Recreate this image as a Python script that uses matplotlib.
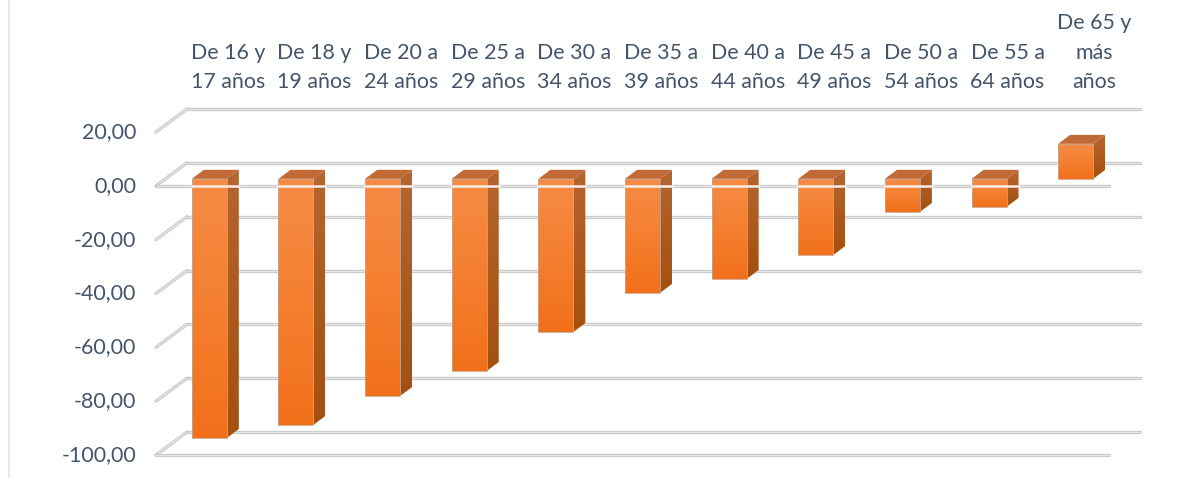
import numpy as np
import matplotlib
matplotlib.use('Agg')
import matplotlib.pyplot as plt
from matplotlib.patches import Polygon
from matplotlib.lines import Line2D

plt.rcParams['font.family'] = ['Lato', 'DejaVu Sans']

categorias = ['De 16 y\n17 años', 'De 18 y\n19 años', 'De 20 a\n24 años', 'De 25 a\n29 años',
              'De 30 a\n34 años', 'De 35 a\n39 años', 'De 40 a\n44 años', 'De 45 a\n49 años',
              'De 50 a\n54 años', 'De 55 a\n64 años', 'De 65 y\nmás\naños']
valores = [-96.3, -91.4, -80.7, -71.4, -56.9, -42.4, -37.2, -28.3, -12.3, -10.4, 13.0]
ticks = [20, 0, -20, -40, -60, -80, -100]
tick_labels = ['20,00', '0,00', '-20,00', '-40,00', '-60,00', '-80,00', '-100,00']

W, H = 1191, 478
fig = plt.figure(figsize=(W / 100, H / 100), dpi=100)
# zona del suelo frontal: x 156-1109, y 132 (20) a 455 (-100)
ax = fig.add_axes([156 / W, 1 - 455 / H, 953 / W, 323 / H])
ax.set_xlim(-0.5, 10.5)
ax.set_ylim(-100, 20)
ax.axis('off')

px_x = 11 / 953
px_y = 120 / 323
texto = '#44546A'


def to_x(px):
    return px * px_x


def to_y(px):
    return px * px_y


# profundidad de la caja y de las barras, en unidades de datos
caja_x, caja_y = to_x(31), to_y(23)
off_x, off_y = to_x(10), to_y(7)
prof_x, prof_y = to_x(12), to_y(9)
ancho = to_x(35)


def rejilla(x, y, z):
    ax.add_line(Line2D(x, y, color='#CBCBCB', lw=2.4, zorder=z, clip_on=False, solid_capstyle='round'))
    ax.add_line(Line2D(x, y, color='#E6E6E6', lw=0.8, zorder=z, clip_on=False, solid_capstyle='round'))


for t, lab in zip(ticks, tick_labels):
    # linea de fondo y diagonal lateral
    rejilla([-0.5 + caja_x, 10.5 + caja_x], [t + caja_y, t + caja_y], 1)
    rejilla([-0.5, -0.5 + caja_x], [t, t + caja_y], 1)
    ax.text(-0.5 - to_x(20), t, lab, ha='right', va='center', fontsize=15.4, color=texto)

# lineas frontales: -100 y 0
rejilla([-0.5, 10.5], [-100, -100], 1)
rejilla([-0.5, 10.5], [0, 0], 2)

degradado = np.linspace(0, 1, 64).reshape(-1, 1)
cmap = matplotlib.colors.LinearSegmentedColormap.from_list('naranja', ['#F68B45', '#F47F30', '#F2701A'])
cmap_lado = matplotlib.colors.LinearSegmentedColormap.from_list('lado', ['#B5652F', '#A4500F'])

for i, v in enumerate(valores):
    izq = i + off_x - ancho / 2
    der = izq + ancho
    arriba = max(v, 0) + off_y
    abajo = min(v, 0) + off_y
    # cara frontal con degradado
    im = ax.imshow(degradado, extent=[izq, der, abajo, arriba], aspect='auto', cmap=cmap,
                   zorder=3, origin='upper')
    cara = Polygon([[izq, abajo], [der, abajo], [der, arriba], [izq, arriba]], closed=True,
                   fc='none', ec='#C9A58E', lw=0.6, zorder=3.2)
    ax.add_patch(cara)
    im.set_clip_path(cara)
    # cara superior
    ax.add_patch(Polygon([[izq, arriba], [der, arriba], [der + prof_x, arriba + prof_y],
                          [izq + prof_x, arriba + prof_y]], closed=True, fc='#C26A35', ec='none', zorder=3))
    # cara lateral
    lado = Polygon([[der, arriba], [der + prof_x, arriba + prof_y], [der + prof_x, abajo + prof_y],
                    [der, abajo]], closed=True, fc='none', ec='none', zorder=3)
    ax.add_patch(lado)
    im2 = ax.imshow(degradado, extent=[der, der + prof_x, abajo, arriba + prof_y], aspect='auto',
                    cmap=cmap_lado, zorder=3, origin='upper')
    im2.set_clip_path(lado)
    # la linea del cero se ve clara sobre las barras que la cruzan
    if v < 0:
        ax.add_line(Line2D([izq, der + prof_x], [0, 0], color='#F6EEE8', lw=1.8, zorder=4))
    ax.text(i + to_x(28.5), 20 + to_y(39.5), categorias[i], ha='center', va='bottom', fontsize=15.4,
            color=texto, linespacing=1.6)

ax.set_xlim(-0.5, 10.5)
ax.set_ylim(-100, 20)

# borde izquierdo del recuadro
fig.add_artist(Line2D([9 / W, 9 / W], [0, 1], color='#E3E8EF', lw=1.6))

fig.savefig('out.png', dpi=100)
